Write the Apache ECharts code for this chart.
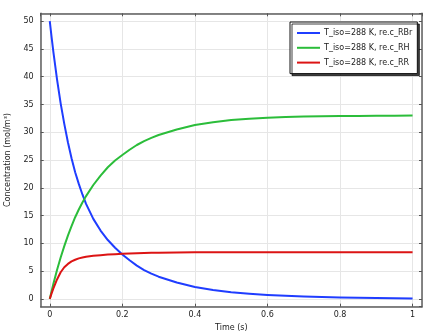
<!DOCTYPE html>
<html><head><meta charset="utf-8">
<script src="https://cdn.jsdelivr.net/npm/echarts@6/dist/echarts.min.js"></script>
<style>html,body{margin:0;padding:0;background:#fff}#c{width:432px;height:333px}</style>
</head><body><div id="c"></div>
<script>
var timeS = [0,0.005,0.01,0.02,0.03,0.04,0.05,0.06,0.07,0.08,0.09,0.1,0.12,0.14,0.16,0.18,0.2,0.22,0.24,0.26,0.28,0.3,0.35,0.4,0.45,0.5,0.55,0.6,0.65,0.7,0.75,0.8,0.85,0.9,0.95,1.0];
var cRBr = [50,47.1,44.4,39.5,35.2,31.5,28.2,25.3,22.8,20.7,18.8,17.1,14.4,12.3,10.6,9.2,8.0,6.95,6.0,5.2,4.55,4.0,2.95,2.15,1.6,1.2,0.93,0.72,0.56,0.44,0.34,0.26,0.2,0.15,0.11,0.08];
var cRH = [0,1.38,2.72,5.22,7.46,9.5,11.4,13.1,14.7,16.1,17.35,18.5,20.5,22.2,23.7,24.9,25.9,26.85,27.7,28.4,28.97,29.5,30.5,31.3,31.8,32.2,32.43,32.6,32.73,32.81,32.87,32.91,32.94,32.96,32.98,33.0];
var cRR = [0,1.0,1.9,3.5,4.8,5.7,6.3,6.75,7.05,7.3,7.45,7.58,7.75,7.88,7.98,8.06,8.13,8.19,8.24,8.28,8.31,8.33,8.36,8.38,8.39,8.4,8.4,8.4,8.4,8.4,8.4,8.4,8.4,8.4,8.4,8.4];
var seriesNames = ['T_iso=288 K, re.c_RBr','T_iso=288 K, re.c_RH','T_iso=288 K, re.c_RR'];
var seriesColors = ['#1f3dff','#2bbd3a','#dc1414'];
var xLabel = 'Time (s)';
var yLabel = 'Concentration (mol/m³)';

function pairs(v){ return timeS.map(function(t,i){ return [t, v[i]]; }); }
var font = 'DejaVu Sans';
var frame = {show:true, onZero:false, lineStyle:{color:'#5e5e5e', width:1.5}};
var grid = {show:true, lineStyle:{color:'#e6e6e6', width:1}};
var tick = {show:true, inside:true, length:3, lineStyle:{color:'#555'}};
var xr = {min:-0.025, max:1.026}, yr = {min:-1.4, max:51.4};
var chart = echarts.init(document.getElementById('c'), null, {renderer:'canvas'});
chart.setOption({
  animation:false,
  grid:{left:40.7, right:10, top:13.3, bottom:26.3, containLabel:false, outerBoundsMode:'none'},
  xAxis:[
    {type:'value', min:xr.min, max:xr.max, splitNumber:5, position:'bottom',
     name:xLabel, nameLocation:'middle', nameGap:9,
     nameTextStyle:{fontFamily:font, fontSize:8, color:'#222'},
     axisLine:frame, axisTick:tick,
     axisLabel:{fontFamily:font, fontSize:8, color:'#222', margin:4, showMinLabel:false, showMaxLabel:false},
     splitLine:grid},
    {type:'value', min:xr.min, max:xr.max, splitNumber:5, position:'top',
     axisLine:frame, axisTick:tick, axisLabel:{show:false}, splitLine:{show:false}}
  ],
  yAxis:[
    {type:'value', min:yr.min, max:yr.max, splitNumber:10, position:'left',
     name:yLabel, nameLocation:'middle', nameGap:29, nameRotate:90,
     nameTextStyle:{fontFamily:font, fontSize:8, color:'#222'},
     axisLine:frame, axisTick:tick,
     axisLabel:{fontFamily:font, fontSize:8, color:'#222', margin:7, showMinLabel:false, showMaxLabel:false},
     splitLine:grid},
    {type:'value', min:yr.min, max:yr.max, splitNumber:10, position:'right',
     axisLine:frame, axisTick:tick, axisLabel:{show:false}, splitLine:{show:false}}
  ],
  legend:{
    orient:'vertical', left:290, top:22, width:120,
    backgroundColor:'#fff', borderColor:'#111', borderWidth:1,
    shadowColor:'rgba(0,0,0,0.75)', shadowOffsetX:2, shadowOffsetY:2, shadowBlur:0,
    padding:[7,5,7,7], itemGap:6.8, itemWidth:23, itemHeight:2, icon:'rect',
    textStyle:{fontFamily:font, fontSize:8, color:'#222', padding:[0,0,0,-1]},
    data:seriesNames
  },
  series:[0,1,2].map(function(i){
    return {name:seriesNames[i], type:'line', xAxisIndex:0, yAxisIndex:0,
      data:pairs([cRBr,cRH,cRR][i]), smooth:false, showSymbol:false, symbol:'none',
      lineStyle:{color:seriesColors[i], width:2, join:'round'}, itemStyle:{color:seriesColors[i]}};
  })
});
</script></body></html>
